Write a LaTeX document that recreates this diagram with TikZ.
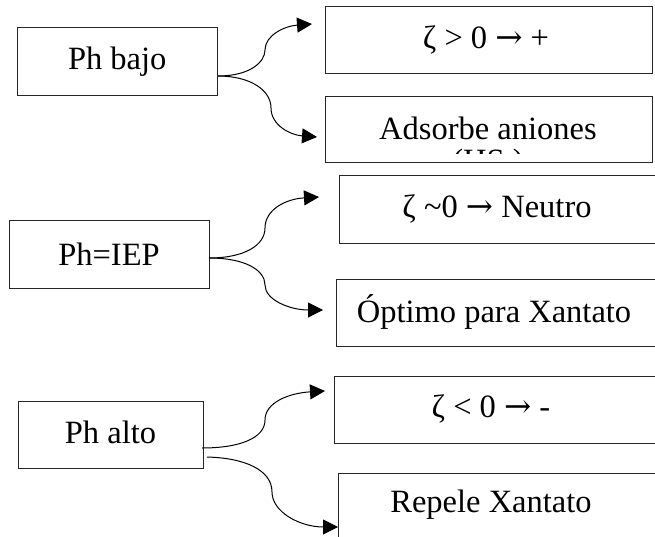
\documentclass[tikz,border=0pt]{standalone}
\usepackage{fontspec}
\setmainfont{Liberation Serif}
\newfontfamily\arrowfont{DejaVu Serif}
\usetikzlibrary{arrows.meta}
\newcommand{\rarr}{{\arrowfont →}}
\tikzset{
  box/.style={draw=black!85, line width=1pt, rectangle, inner sep=0pt, outer sep=0pt, fill=white},
  lbl/.style={inner sep=0pt, font=\fontsize{32.5}{39}\selectfont},
  conn/.style={draw=black, line width=1pt, -{Triangle[length=15pt,width=15pt]}}
}
\begin{document}
\begin{tikzpicture}[x=1pt,y=-1pt]
\useasboundingbox (0,0) rectangle (655,537);
% left boxes
\node[box, minimum width=199.5pt, minimum height=68pt] (pb) at (117.25,62) {};
\node[box, minimum width=200pt, minimum height=67pt] (pi) at (109,254.5) {};
\node[box, minimum width=185pt, minimum height=67pt] (pa) at (110.5,434.5) {};
% right boxes
\node[box, minimum width=327pt, minimum height=67pt] (r1) at (488.5,40.5) {};
\node[box, minimum width=327pt, minimum height=66pt] (r2) at (488.5,130) {};
\node[box, minimum width=318pt, minimum height=67pt] (r3) at (498,209.5) {};
\node[box, minimum width=321pt, minimum height=67pt] (r4) at (496.5,312.5) {};
\node[box, minimum width=323pt, minimum height=67pt] (r5) at (495.5,409.5) {};
\node[box, minimum width=319pt, minimum height=80pt] (r6) at (497.5,513) {};
% texts
\node[lbl] (tpb) at (pb.center) {Ph bajo};
\node[lbl] (tpi) at (pi.center) {Ph=IEP};
\node[lbl] (tpa) at (110.5,432) {Ph alto};
\node[lbl] (t1) at (486,40) {ζ > 0 \rarr\ +};
\node[lbl] (t2) at (488,128) {Adsorbe aniones};
\begin{scope}
\clip (326,140) rectangle (651,153.5);
\node[lbl] (t2b) at (488,164) {(HS\textsuperscript{-})};
\end{scope}
\node[lbl] (t3) at (497,209) {ζ \textasciitilde0 \rarr\ Neutro};
\node[lbl] (t4) at (494,312) {Óptimo para Xantato};
\node[lbl] (t5) at (491,409) {ζ < 0 \rarr\ -};
\node[lbl] (t6) at (491,505) {Repele Xantato};
% connector endpoints
\coordinate (s1) at (218,76);
\coordinate (e1a) at (312,24);
\coordinate (e1b) at (317,137);
\coordinate (s2) at (209,258);
\coordinate (e2a) at (319,197);
\coordinate (e2b) at (323,310);
\coordinate (s3a) at (202,448);
\coordinate (s3b) at (207,457);
\coordinate (e3a) at (325,391);
\coordinate (e3b) at (338,527);
% connectors
\draw[conn] (s1) .. controls (250,76) and (265,62) .. (265,50) .. controls (265,35) and (285,26) .. (e1a);
\draw[conn] (s1) .. controls (250,76) and (271,90) .. (271,108) .. controls (271,125) and (290,135) .. (e1b);
\draw[conn] (s2) .. controls (245,258) and (265,245) .. (265,228) .. controls (265,210) and (285,199) .. (e2a);
\draw[conn] (s2) .. controls (245,258) and (265,270) .. (265,285) .. controls (265,300) and (290,310) .. (e2b);
\draw[conn] (s3a) .. controls (240,448) and (265,438) .. (265,420) .. controls (265,402) and (290,393) .. (e3a);
\draw[conn] (s3b) .. controls (245,458) and (272,470) .. (272,492) .. controls (272,512) and (300,527) .. (e3b);
\end{tikzpicture}
\end{document}
